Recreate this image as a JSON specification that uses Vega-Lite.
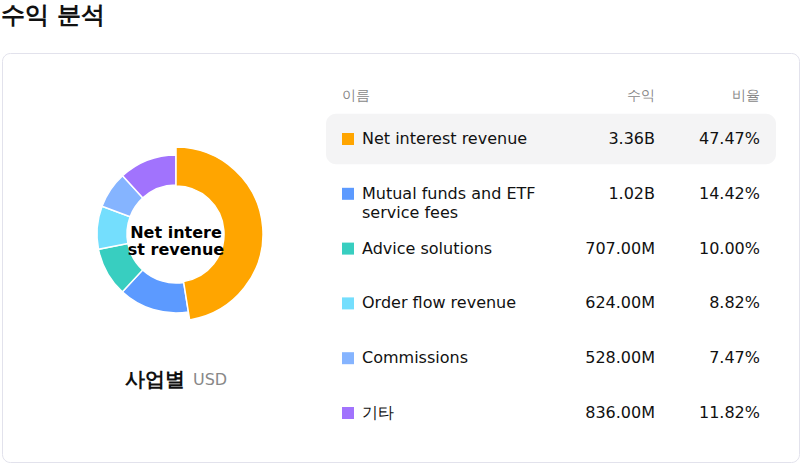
{
  "$schema": "https://vega.github.io/schema/vega-lite/v6.json",
  "autosize": {"type": "fit", "contains": "padding"},
  "width": 800,
  "height": 463,
  "padding": {"left": 1, "right": 1, "top": 4, "bottom": 1},
  "background": "white",
  "title": {
    "text": "수익 분석",
    "anchor": "start",
    "fontSize": 24,
    "fontWeight": "bold",
    "color": "#111111",
    "font": "DejaVu Sans",
    "offset": 25,
    "dx": -1
  },
  "config": {
    "view": {"stroke": "#e2e2ec", "strokeWidth": 1, "cornerRadius": 8},
    "font": "DejaVu Sans"
  },
  "datasets": {
    "revenue": [
      {"rank": 1, "name": "Net interest revenue", "label": "Net interest revenue", "revenue": 3360000000, "revenue_text": "3.36B", "share": 0.4747},
      {"rank": 2, "name": "Mutual funds and ETF service fees", "label": "Mutual funds and ETF\nservice fees", "revenue": 1020000000, "revenue_text": "1.02B", "share": 0.1442},
      {"rank": 3, "name": "Advice solutions", "label": "Advice solutions", "revenue": 707000000, "revenue_text": "707.00M", "share": 0.1},
      {"rank": 4, "name": "Order flow revenue", "label": "Order flow revenue", "revenue": 624000000, "revenue_text": "624.00M", "share": 0.0882},
      {"rank": 5, "name": "Commissions", "label": "Commissions", "revenue": 528000000, "revenue_text": "528.00M", "share": 0.0747},
      {"rank": 6, "name": "기타", "label": "기타", "revenue": 836000000, "revenue_text": "836.00M", "share": 0.1182}
    ],
    "one": [{}]
  },
  "data": {"name": "revenue"},
  "layer": [
    {
      "mark": {"type": "arc", "innerRadius": 49, "outerRadius": 79, "stroke": "white", "strokeWidth": 1.5},
      "encoding": {
        "x": {"value": 174},
        "y": {"value": 181},
        "theta": {"field": "revenue", "type": "quantitative", "stack": true},
        "order": {"field": "rank", "type": "quantitative", "sort": "ascending"},
        "color": {
          "field": "name",
          "type": "nominal",
          "sort": null,
          "legend": null,
          "scale": {
            "domain": ["Net interest revenue", "Mutual funds and ETF service fees", "Advice solutions", "Order flow revenue", "Commissions", "기타"],
            "range": ["#ffa500", "#5c9aff", "#38cec0", "#74defd", "#85b4ff", "#a173fd"]
          }
        }
      }
    },
    {
      "mark": {"type": "arc", "innerRadius": 48, "outerRadius": 87, "stroke": "white", "strokeWidth": 1.5},
      "encoding": {
        "x": {"value": 174},
        "y": {"value": 181},
        "theta": {"field": "revenue", "type": "quantitative", "stack": true},
        "order": {"field": "rank", "type": "quantitative", "sort": "ascending"},
        "color": {"field": "name", "type": "nominal", "sort": null, "legend": null},
        "opacity": {"condition": {"test": "datum.rank === 1", "value": 1}, "value": 0}
      }
    },
    {
      "data": {"name": "one"},
      "mark": {"type": "text", "fontSize": 16, "fontWeight": "bold", "color": "#000000", "lineHeight": 17, "baseline": "middle"},
      "encoding": {
        "x": {"value": 174},
        "y": {"value": 180},
        "text": {"value": ["Net intere", "st revenue"]}
      }
    },
    {
      "data": {"name": "one"},
      "mark": {"type": "text", "fontSize": 20, "fontWeight": "bold", "color": "#111111", "align": "left", "baseline": "middle"},
      "encoding": {"x": {"value": 123}, "y": {"value": 327}, "text": {"value": "사업별"}}
    },
    {
      "data": {"name": "one"},
      "mark": {"type": "text", "fontSize": 16, "color": "#888888", "align": "left", "baseline": "middle"},
      "encoding": {"x": {"value": 191}, "y": {"value": 327}, "text": {"value": "USD"}}
    },
    {
      "data": {"name": "one"},
      "mark": {"type": "text", "fontSize": 14, "color": "#888888", "align": "left", "baseline": "middle"},
      "encoding": {"x": {"value": 340}, "y": {"value": 43}, "text": {"value": "이름"}}
    },
    {
      "data": {"name": "one"},
      "mark": {"type": "text", "fontSize": 14, "color": "#888888", "align": "right", "baseline": "middle"},
      "encoding": {"x": {"value": 653}, "y": {"value": 43}, "text": {"value": "수익"}}
    },
    {
      "data": {"name": "one"},
      "mark": {"type": "text", "fontSize": 14, "color": "#888888", "align": "right", "baseline": "middle"},
      "encoding": {"x": {"value": 758}, "y": {"value": 43}, "text": {"value": "비율"}}
    },
    {
      "transform": [{"filter": "datum.rank === 1"}],
      "mark": {"type": "rect", "fill": "#f4f4f5", "cornerRadius": 10},
      "encoding": {
        "x": {"value": 324},
        "x2": {"value": 774},
        "y": {"field": "name", "type": "nominal", "sort": null, "axis": null,
              "scale": {"domain": ["Net interest revenue", "Mutual funds and ETF service fees", "Advice solutions", "Order flow revenue", "Commissions", "기타"],
                        "range": [58.6, 387.4], "paddingInner": 0.08, "paddingOuter": 0.04}}
      }
    },
    {
      "mark": {"type": "point", "shape": "square", "filled": true, "size": 144, "opacity": 1},
      "encoding": {
        "x": {"value": 346},
        "y": {"field": "name", "type": "nominal", "sort": null, "axis": null},
        "color": {"field": "name", "type": "nominal", "sort": null, "legend": null}
      }
    },
    {
      "mark": {"type": "text", "fontSize": 16, "color": "#111111", "align": "left", "baseline": "middle", "lineBreak": "\n", "lineHeight": 19},
      "encoding": {
        "x": {"value": 360},
        "y": {"field": "name", "type": "nominal", "sort": null, "axis": null},
        "text": {"field": "label"}
      }
    },
    {
      "mark": {"type": "text", "fontSize": 16, "color": "#111111", "align": "right", "baseline": "middle"},
      "encoding": {
        "x": {"value": 653},
        "y": {"field": "name", "type": "nominal", "sort": null, "axis": null},
        "text": {"field": "revenue_text"}
      }
    },
    {
      "mark": {"type": "text", "fontSize": 16, "color": "#111111", "align": "right", "baseline": "middle"},
      "encoding": {
        "x": {"value": 758},
        "y": {"field": "name", "type": "nominal", "sort": null, "axis": null},
        "text": {"field": "share", "format": ".2%"}
      }
    }
  ]
}
